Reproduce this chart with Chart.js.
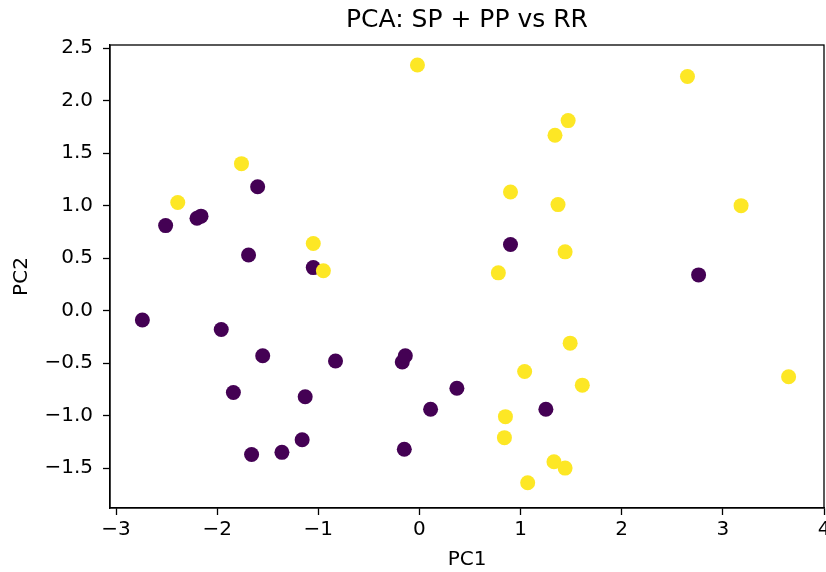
<!DOCTYPE html>
<html>
<head>
<meta charset="utf-8">
<script src="https://cdn.jsdelivr.net/npm/chart.js@4.4.1/dist/chart.umd.min.js"></script>
<style>
  html, body { margin: 0; padding: 0; background: #fff; }
  #wrap { width: 826px; height: 572px; position: relative; }
</style>
</head>
<body>
<div id="wrap"><canvas id="pca"></canvas></div>
<script>
// PCA scores, split by class (0 = SP + PP, 1 = RR)
const class0X = [-1.60, -2.51, -2.20, -2.16, -1.69, -1.05, 0.90, 2.76, -2.74, -1.96, -1.55, -0.83, -0.17, -0.14, -1.84, -1.13, 0.37, 0.11, 1.25, -1.16, -1.66, -1.36, -0.15];
const class0Y = [1.18, 0.81, 0.88, 0.90, 0.53, 0.41, 0.63, 0.34, -0.09, -0.18, -0.43, -0.48, -0.49, -0.43, -0.78, -0.82, -0.74, -0.94, -0.94, -1.23, -1.37, -1.35, -1.32];

const class1X = [-0.02, 2.65, 1.47, 1.34, -1.76, 0.90, -2.39, 1.37, 3.18, -1.05, 1.44, -0.95, 0.78, 1.49, 1.04, 1.61, 3.65, 0.85, 0.84, 1.33, 1.44, 1.07];
const class1Y = [2.34, 2.23, 1.81, 1.67, 1.40, 1.13, 1.03, 1.01, 1.00, 0.64, 0.56, 0.38, 0.36, -0.31, -0.58, -0.71, -0.63, -1.01, -1.21, -1.44, -1.50, -1.64];

const xTicks = [-3, -2, -1, 0, 1, 2, 3, 4];
const yTicks = [-1.5, -1.0, -0.5, 0.0, 0.5, 1.0, 1.5, 2.0, 2.5];

const toPoints = (xs, ys) => xs.map((x, i) => ({ x: x, y: ys[i] }));

const PURPLE = '#440154';
const YELLOW = '#fde725';
const FONT = 'DejaVu Sans';

// full box around the plot (matplotlib spines)
const frame = {
    id: 'frame',
    afterLayout(chart) {
        // centre the title over the plot area, not the canvas
        const t = chart.titleBlock;
        if (t) {
            t.left = chart.chartArea.left;
            t.right = chart.chartArea.right;
            t.width = t.right - t.left;
        }
    },
    afterDraw(chart) {
        const { ctx, chartArea: a } = chart;
        ctx.save();
        ctx.strokeStyle = '#000';
        ctx.lineWidth = 1.3;
        ctx.strokeRect(a.left, a.top, a.right - a.left, a.bottom - a.top);
        ctx.restore();
    }
};

new Chart(document.getElementById('pca'), {
    type: 'scatter',
    data: {
        datasets: [
            {
                label: 'RR',
                data: toPoints(class1X, class1Y),
                backgroundColor: YELLOW,
                borderWidth: 0,
                pointRadius: 7.5,
                order: 0
            },
            {
                label: 'SP + PP',
                data: toPoints(class0X, class0Y),
                backgroundColor: PURPLE,
                borderWidth: 0,
                pointRadius: 7.5,
                order: 1
            }
        ]
    },
    options: {
        responsive: true,
        maintainAspectRatio: false,
        animation: false,
        layout: { autoPadding: false, padding: { left: 0, right: 2, top: 0, bottom: 0 } },
        plugins: {
            legend: { display: false },
            tooltip: { enabled: false },
            title: {
                display: true,
                text: 'PCA: SP + PP vs RR',
                color: '#000',
                font: { family: FONT, size: 25, weight: 'normal' },
                padding: { top: 5, bottom: 10 }
            }
        },
        scales: {
            x: {
                type: 'linear',
                min: -3.06,
                max: 4.0,
                afterBuildTicks: (s) => { s.ticks = xTicks.map(v => ({ value: v })); },
                afterFit: (s) => { s.height = 64; s.paddingLeft = 0; s.paddingRight = 0; },
                grid: { drawOnChartArea: false, drawTicks: true, tickLength: 7, tickWidth: 1.3, color: '#000' },
                border: { display: true, color: '#000', width: 1.3 },
                ticks: {
                    color: '#000',
                    padding: 3,
                    maxRotation: 0,
                    font: { family: FONT, size: 20 },
                    callback: (v) => v < 0 ? '\u2212' + Math.abs(v) : String(v)
                },
                title: {
                    display: true,
                    text: 'PC1',
                    color: '#000',
                    font: { family: FONT, size: 20 },
                    padding: { top: 0, bottom: 0 }
                }
            },
            y: {
                type: 'linear',
                min: -1.88,
                max: 2.53,
                afterBuildTicks: (s) => { s.ticks = yTicks.map(v => ({ value: v })); },
                afterFit: (s) => { s.width = 110; s.paddingTop = 0; s.paddingBottom = 0; },
                grid: { drawOnChartArea: false, drawTicks: true, tickLength: 7, tickWidth: 1.3, color: '#000' },
                border: { display: true, color: '#000', width: 1.3 },
                ticks: {
                    color: '#000',
                    padding: 10,
                    font: { family: FONT, size: 20 },
                    callback: (v) => (v < 0 ? '\u2212' : '') + Math.abs(v).toFixed(1)
                },
                title: {
                    display: true,
                    text: 'PC2',
                    color: '#000',
                    font: { family: FONT, size: 20 },
                    padding: { top: 10, bottom: 0 }
                }
            }
        }
    },
    plugins: [frame]
});
</script>
</body>
</html>
